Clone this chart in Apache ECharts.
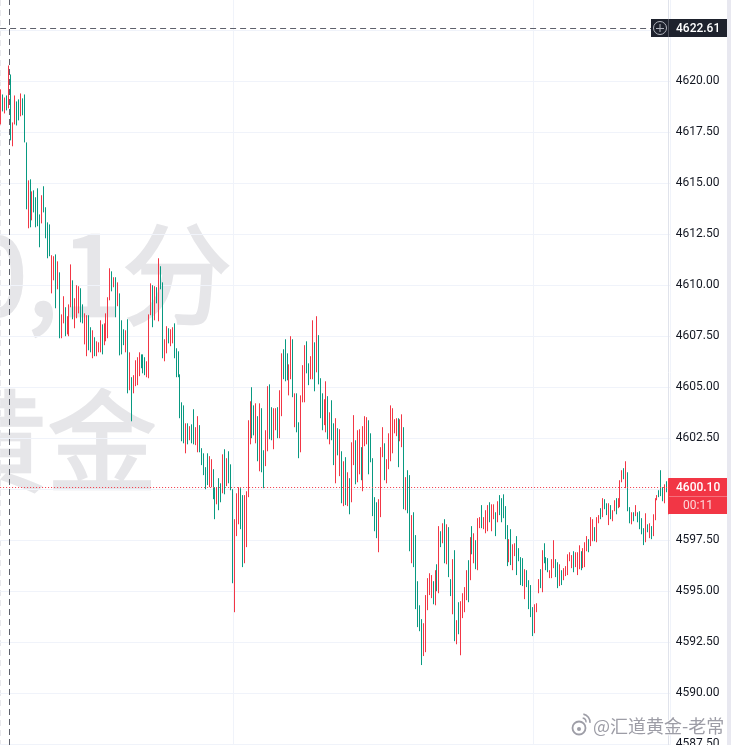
<!DOCTYPE html>
<html><head><meta charset="utf-8">
<style>html,body{margin:0;padding:0;background:#fff}#c{width:738px;height:745px}</style>
<script src="https://cdn.jsdelivr.net/npm/echarts@6/dist/echarts.min.js"></script>
</head><body><div id="c"></div><script>
const tickLabels=[4585,4587.5,4590,4592.5,4595,4597.5,4600,4602.5,4605,4607.5,4610,4612.5,4615,4617.5,4620,4622.5,4625];
const crosshairPrice=4622.61, lastPrice=4600.10, crosshairBar=4, countdown='00:11';
const highs=[
4619.59,4619.34,4619.19,4619.29,4620.76,4620.32,4617.97,4619.29,4619.00,4619.10,
4619.39,4619.15,4619.34,4616.99,4615.13,4615.18,4614.59,4614.64,4614.30,4614.74,
4613.46,4614.40,4614.84,4613.81,4613.07,4612.97,4611.46,4611.41,4611.50,4611.16,
4610.62,4608.56,4609.45,4608.91,4608.47,4609.05,4611.01,4610.23,4609.35,4609.99,
4609.94,4609.84,4609.05,4608.61,4608.52,4608.52,4607.93,4607.78,4607.44,4607.24,
4607.19,4608.27,4608.07,4608.12,4608.61,4609.40,4610.82,4610.67,4610.38,4610.38,
4610.13,4609.59,4608.27,4607.83,4607.78,4608.32,4606.70,4605.48,4605.58,4606.31,
4606.46,4606.70,4606.60,4606.60,4606.46,4606.26,4608.56,4610.08,4609.99,4609.94,
4609.89,4611.31,4610.92,4610.13,4607.34,4607.98,4607.88,4607.83,4607.93,4608.12,
4606.90,4606.75,4605.62,4604.25,4604.10,4603.22,4603.22,4603.08,4603.17,4603.91,
4603.03,4603.57,4603.13,4602.00,4601.75,4601.07,4601.75,4601.61,4601.46,4600.97,
4600.09,4600.09,4600.53,4600.28,4601.70,4601.95,4601.51,4601.85,4601.21,4599.99,
4598.52,4599.79,4600.09,4600.04,4599.70,4599.70,4599.89,4603.37,4604.30,4604.99,
4604.10,4604.20,4603.57,4604.20,4603.96,4601.90,4602.88,4605.04,4605.13,4604.01,
4603.96,4603.96,4604.01,4604.84,4606.65,4606.85,4607.34,4606.65,4606.11,4607.49,
4607.34,4604.69,4604.69,4603.27,4604.59,4606.07,4607.05,4607.24,4606.16,4606.51,
4608.27,4607.19,4608.47,4607.54,4605.43,4604.69,4604.40,4605.28,4604.55,4603.76,
4604.35,4603.22,4603.47,4602.98,4602.93,4601.85,4601.36,4601.56,4600.82,4600.53,
4602.29,4603.62,4602.39,4602.88,4602.93,4602.05,4603.08,4603.57,4603.52,4603.37,
4602.73,4601.51,4599.60,4599.35,4599.50,4602.05,4603.03,4602.24,4601.46,4602.73,
4604.10,4603.96,4603.42,4603.47,4603.47,4603.42,4603.66,4603.03,4600.58,4600.92,
4600.68,4598.72,4598.86,4597.74,4595.48,4594.30,4593.62,4593.42,4594.80,4595.63,
4595.87,4595.78,4595.48,4596.02,4596.31,4598.18,4597.93,4598.32,4598.52,4598.27,
4598.13,4595.58,4596.56,4597.00,4593.57,4594.45,4594.50,4594.89,4595.19,4596.02,
4596.51,4597.64,4598.18,4597.83,4597.49,4598.57,4598.62,4599.21,4598.62,4598.96,
4599.21,4599.35,4599.25,4599.25,4598.86,4599.40,4599.70,4599.55,4599.74,4599.16,
4598.23,4597.54,4598.03,4597.29,4597.34,4597.69,4597.10,4596.66,4596.61,4596.07,
4596.02,4595.53,4595.29,4594.21,4594.35,4594.40,4595.58,4596.07,4597.00,4597.34,
4596.66,4596.61,4596.02,4596.56,4597.49,4596.56,4596.41,4596.31,4596.02,4596.12,
4596.22,4596.80,4596.90,4596.76,4596.95,4596.90,4596.90,4597.24,4596.95,4597.10,
4597.39,4597.69,4597.54,4598.62,4598.52,4598.13,4598.62,4598.72,4599.06,4599.55,
4599.50,4599.30,4599.30,4599.21,4598.96,4599.45,4599.55,4599.55,4600.43,4600.92,
4601.02,4601.36,4600.82,4599.11,4598.86,4598.86,4599.21,4598.86,4598.91,4598.57,
4598.08,4598.81,4598.27,4598.32,4598.18,4598.76,4599.55,4599.70,4599.94,4600.92,
4600.09,4600.23,4600.38,4600.53];
const lows=[
4617.87,4618.51,4618.41,4618.56,4618.66,4617.09,4616.80,4617.87,4617.82,4618.07,
4618.27,4618.32,4616.99,4613.71,4612.78,4612.83,4613.17,4613.56,4612.83,4612.88,
4611.85,4613.02,4613.56,4612.29,4611.31,4611.41,4609.59,4610.23,4608.86,4609.79,
4607.39,4607.39,4608.12,4607.49,4607.58,4607.49,4608.91,4608.32,4607.88,4608.37,
4608.61,4608.17,4608.12,4607.09,4606.51,4606.80,4606.70,4606.41,4606.51,4606.51,
4606.70,4606.70,4606.60,4607.05,4607.24,4607.39,4609.25,4609.69,4609.89,4608.42,
4608.96,4606.55,4606.60,4607.05,4606.70,4604.69,4604.84,4603.32,4604.69,4605.04,
4605.09,4605.53,4605.92,4605.67,4605.58,4605.48,4605.43,4608.52,4607.93,4608.27,
4609.10,4608.22,4609.79,4606.41,4606.26,4606.65,4607.14,4607.00,4607.14,4606.41,
4605.48,4605.48,4603.47,4602.34,4602.24,4601.75,4602.19,4602.39,4602.24,4602.19,
4602.15,4601.80,4601.80,4601.17,4600.68,4599.99,4600.19,4600.09,4600.09,4599.50,
4598.52,4599.25,4598.96,4599.35,4599.79,4599.74,4600.14,4600.28,4599.94,4595.38,
4593.96,4597.69,4598.27,4598.03,4596.17,4596.36,4597.15,4599.60,4602.19,4602.49,
4602.63,4602.24,4601.36,4600.87,4600.82,4600.04,4601.12,4601.85,4602.44,4602.39,
4601.95,4602.88,4602.49,4602.49,4603.57,4605.38,4605.28,4605.33,4604.59,4605.38,
4604.50,4603.03,4602.78,4601.51,4601.80,4604.25,4604.25,4605.67,4605.09,4605.38,
4605.38,4604.79,4605.72,4605.13,4603.47,4602.88,4603.13,4602.78,4602.44,4602.19,
4602.39,4601.17,4600.28,4601.65,4600.63,4599.30,4599.16,4599.21,4599.16,4598.76,
4599.35,4601.17,4600.23,4600.33,4600.72,4600.43,4599.89,4602.10,4602.19,4600.72,
4601.31,4598.67,4597.93,4597.59,4596.90,4598.62,4601.56,4600.43,4600.28,4600.97,
4601.36,4601.75,4602.73,4602.59,4601.07,4602.34,4602.05,4599.01,4598.96,4598.81,
4596.95,4596.36,4596.17,4594.11,4593.23,4593.03,4591.37,4591.81,4592.00,4594.06,
4594.80,4594.65,4594.35,4594.30,4594.99,4594.89,4597.15,4597.34,4596.36,4596.31,
4595.68,4594.75,4593.86,4592.54,4592.39,4592.88,4591.85,4593.67,4593.96,4594.55,
4594.45,4595.53,4596.80,4596.36,4596.07,4596.02,4598.08,4598.08,4598.03,4597.83,
4597.93,4598.37,4597.93,4598.52,4597.69,4598.37,4598.72,4598.37,4598.57,4597.54,
4596.22,4596.41,4596.27,4596.02,4596.71,4595.78,4596.46,4595.29,4595.24,4594.60,
4595.19,4594.11,4593.72,4592.79,4592.93,4593.96,4594.89,4595.14,4594.94,4596.36,
4596.02,4595.92,4595.63,4595.63,4596.12,4595.68,4595.14,4595.24,4595.29,4595.53,
4595.73,4595.78,4596.46,4596.12,4595.92,4596.17,4595.78,4596.07,4596.02,4596.12,
4596.17,4596.95,4596.90,4597.20,4597.44,4597.44,4597.39,4598.32,4598.52,4598.62,
4599.01,4598.72,4598.23,4598.52,4598.42,4598.91,4598.76,4599.06,4599.11,4600.33,
4600.48,4600.04,4598.91,4598.32,4598.27,4598.42,4598.67,4598.37,4598.03,4597.78,
4597.25,4597.39,4597.88,4597.59,4597.54,4597.69,4598.47,4599.45,4599.60,4599.65,
4599.40,4599.30,4599.84,4598.76];
const directions=
'RGRGRGRRGG'+'RGGGRGRGGG'+'GRGGGGRRGR'+'GRRGRRRGRR'+'RGGRRGGRGR'+'RRGRRRRGRG'+'RGGGRGRGRR'+
'RRGGGRRRGR'+'GRGGRRGRRG'+'GGGGGRGRGG'+'RRGGGGGRRG'+'GRGGRGRGGG'+'RRRGGRRRRG'+'GRGRGGRRGG'+
'RRGRRGGGRR'+'GRGGRRRGGR'+'RGRGGGRRGR'+'GGRGRGRGRG'+'RRGRRGRRRG'+'GGGGRRRGRR'+'RRRRGRRGRG'+
'GRGGGGGRRR'+'RRGRGRGRGR'+'GGRGRGRRRR'+'GRGRGRRGRR'+'RGRRGRGGGG'+'GRGRRGGGGR'+'GGGGRRRGRG'+
'GGRRRGGRGR'+'RRRRGRRRGR'+'RRGRRGRRGR'+'GGRGRRGRRR'+'GRGGRGRGGG'+'GRGRGRRRGG'+'GRGR';

const GREEN='#089981', RED='#f23645', GRID='#f0f3fa', PX=20.4, STEP=1.947;
const categories=highs.map((_,i)=>String(i));
const candles=highs.map((h,i)=>directions[i]==='G'?[lows[i],h,lows[i],h]:[h,lows[i],lows[i],h]);
const verticalGridBars=[120,274];
const FONT='Roboto, "Noto Sans", sans-serif', CJK='"Noto Sans CJK SC", sans-serif';
const chart=echarts.init(document.getElementById('c'),null,{renderer:'canvas'});
const y0=81.0, gridTop=y0-5*PX, gridH=40*PX, gridLeft=0.1, gridW=highs.length*STEP;
const option={
  animation:false,backgroundColor:'#fff',
  grid:{left:gridLeft,top:gridTop,width:gridW,height:gridH,containLabel:false,outerBoundsMode:'none'},
  xAxis:{type:'category',data:categories,axisLine:{show:false},axisTick:{show:false},axisLabel:{show:false},
    splitLine:{show:true,interval:(i)=>verticalGridBars.includes(i),lineStyle:{color:GRID,width:1}}},
  yAxis:{type:'value',position:'right',offset:-1.5,min:4585,max:4625,interval:2.5,scale:true,
    axisLine:{show:true,lineStyle:{color:'#e0e3eb',width:1}},axisTick:{show:false},
    axisLabel:{margin:7.5,color:'#131722',fontFamily:FONT,fontSize:12,padding:[4,0,0,0],formatter:v=>v.toFixed(2)},
    splitLine:{show:true,lineStyle:{color:GRID,width:1}}},
  series:[{type:'candlestick',data:candles,barWidth:1,clip:true,
    itemStyle:{color:GREEN,color0:RED,borderColor:GREEN,borderColor0:RED,borderWidth:1},
    markLine:{silent:true,symbol:'none',animation:false,label:{show:false},
      data:[
        {yAxis:lastPrice,lineStyle:{color:RED,type:[1,2],width:1}},
        {yAxis:crosshairPrice,lineStyle:{color:'#5d606b',type:[6,4],width:1}},
        {xAxis:crosshairBar,lineStyle:{color:'#5d606b',type:[6,4],width:1}}
      ]}}]
};
chart.setOption(option);
const yc=chart.convertToPixel({yAxisIndex:0},crosshairPrice), yl=chart.convertToPixel({yAxisIndex:0},lastPrice);
const Z=200, MARK='rgba(140,140,150,0.85)', WM='#e6e6e9';
const wmStyle={verticalAlign:'middle',font:'400 110px '+CJK,fill:WM,stroke:WM,lineWidth:2.5,lineJoin:'round'};
const graphic=[
  {type:'text',z:-5,silent:true,style:{...wmStyle,x:58,y:274,text:'0,',align:'right'}},
  {type:'text',z:-5,silent:true,style:{...wmStyle,x:232,y:274,text:'1分',align:'right'}},
  {type:'text',z:-5,silent:true,style:{...wmStyle,x:157,y:441,text:'黄金',align:'right'}},
  {type:'line',z:-4,silent:true,shape:{x1:0.5,y1:0,x2:0.5,y2:745},style:{stroke:'#e8e8ec',lineWidth:1,lineDash:[6,4]}},
  {type:'rect',z:Z,silent:true,shape:{x:727,y:0,width:4,height:745},style:{fill:'#e8e8f0'}},
  {type:'rect',z:Z,silent:true,shape:{x:651,y:Math.round(yc)-9,width:76,height:18},style:{fill:'#1e222d'}},
  {type:'circle',z:Z+1,silent:true,shape:{cx:660,cy:Math.round(yc),r:6.5},style:{fill:'none',stroke:'#b2b5be',lineWidth:1}},
  {type:'line',z:Z+1,silent:true,shape:{x1:656,y1:Math.round(yc)+.5,x2:664,y2:Math.round(yc)+.5},style:{stroke:'#b2b5be',lineWidth:1}},
  {type:'line',z:Z+1,silent:true,shape:{x1:660,y1:Math.round(yc)-4,x2:660,y2:Math.round(yc)+4},style:{stroke:'#b2b5be',lineWidth:1}},
  {type:'line',z:Z+1,silent:true,shape:{x1:668.5,y1:Math.round(yc)-9,x2:668.5,y2:Math.round(yc)+9},style:{stroke:'#50535e',lineWidth:1}},
  {type:'text',z:Z+1,silent:true,style:{x:676,y:Math.round(yc)+1,text:crosshairPrice.toFixed(2),verticalAlign:'middle',font:'500 12px '+FONT,fill:'#fff'}},
  {type:'rect',z:Z,silent:true,shape:{x:669,y:Math.round(yl)-9,width:58,height:36},style:{fill:RED}},
  {type:'line',z:Z+1,silent:true,shape:{x1:669,y1:Math.round(yl)+9.5,x2:727,y2:Math.round(yl)+9.5},style:{stroke:'#f6707c',lineWidth:1}},
  {type:'text',z:Z+1,silent:true,style:{x:676,y:Math.round(yl)+1,text:lastPrice.toFixed(2),verticalAlign:'middle',font:'500 12px '+FONT,fill:'#fff'}},
  {type:'text',z:Z+1,silent:true,style:{x:698,y:Math.round(yl)+19,text:countdown,align:'center',verticalAlign:'middle',font:'400 12px '+FONT,fill:'#fcd7da'}},
  {type:'text',z:Z+2,silent:true,style:{x:593,y:726,text:'@汇道黄金-老常',verticalAlign:'middle',font:'400 18px '+CJK,fill:MARK,stroke:'rgba(255,255,255,0.9)',lineWidth:2}},
  {type:'circle',z:Z+2,silent:true,shape:{cx:579,cy:728,r:6.5},style:{fill:'none',stroke:MARK,lineWidth:1.8}},
  {type:'circle',z:Z+2,silent:true,shape:{cx:579,cy:729,r:2},style:{fill:MARK}},
  {type:'arc',z:Z+2,silent:true,shape:{cx:582,cy:722,r:8,startAngle:-1.4,endAngle:0.1},style:{fill:'none',stroke:MARK,lineWidth:1.6}},
  {type:'arc',z:Z+2,silent:true,shape:{cx:582,cy:722,r:4,startAngle:-1.4,endAngle:0.1},style:{fill:'none',stroke:MARK,lineWidth:1.4}}
];
chart.setOption({graphic:graphic});
</script></body></html>
